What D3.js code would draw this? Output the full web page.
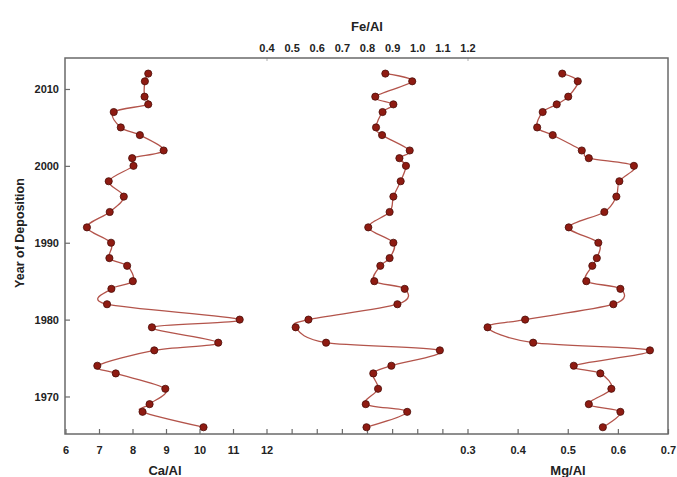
<!DOCTYPE html>
<html>
<head>
<meta charset="utf-8">
<script src="https://cdn.jsdelivr.net/npm/d3@7"></script>
<style>
  html, body { margin: 0; padding: 0; background: #fff; }
  svg { display: block; }
  .lbl { font-family: 'Liberation Sans Narrow', 'Arial Narrow', 'Liberation Sans', Arial, sans-serif; font-weight: bold; fill: #222; }
</style>
</head>
<body>
<svg id="chart" width="677" height="477"></svg>
<script>
// ---------- data ----------
const years = [2012, 2011, 2009, 2008, 2007, 2005, 2004, 2002, 2001, 2000,
               1998, 1996, 1994, 1992, 1990, 1988, 1987, 1985, 1984, 1982,
               1980, 1979, 1977, 1976, 1974, 1973, 1971, 1969, 1968, 1966];
const caAl = [8.47, 8.37, 8.36, 8.47, 7.44, 7.65, 8.22, 8.93, 7.99, 8.03,
              7.29, 7.74, 7.32, 6.64, 7.36, 7.31, 7.84, 8.01, 7.37, 7.24,
              11.20, 8.58, 10.56, 8.65, 6.95, 7.50, 8.98, 8.51, 8.30, 10.12];
const feAl = [0.873, 0.980, 0.833, 0.905, 0.862, 0.836, 0.860, 0.970, 0.929, 0.955,
              0.934, 0.905, 0.890, 0.805, 0.905, 0.890, 0.853, 0.829, 0.950, 0.921,
              0.567, 0.516, 0.637, 1.090, 0.897, 0.825, 0.844, 0.795, 0.960, 0.798];
const mgAl = [0.489, 0.520, 0.501, 0.478, 0.450, 0.439, 0.470, 0.528, 0.542, 0.632,
              0.603, 0.597, 0.573, 0.502, 0.561, 0.558, 0.549, 0.537, 0.605, 0.591,
              0.415, 0.340, 0.431, 0.664, 0.512, 0.565, 0.587, 0.542, 0.605, 0.570];

const yearTicks = [1970, 1980, 1990, 2000, 2010];
const caTicks = [6, 7, 8, 9, 10, 11, 12];
const feTicks = [0.4, 0.5, 0.6, 0.7, 0.8, 0.9, 1.0, 1.1, 1.2];
const mgTicks = [0.3, 0.4, 0.5, 0.6, 0.7];

// ---------- layout ----------
const L = 65, R = 668, T = 58, B = 434;
const svg = d3.select('#chart');

const y = d3.scaleLinear().domain([1965.12, 2014.03]).range([B, T]);
const xCa = d3.scaleLinear().domain([6, 12]).range([L + 0.5, 266.5]);
const xFe = d3.scaleLinear().domain([0.4, 1.2]).range([266.5, 467.5]);
const xMg = d3.scaleLinear().domain([0.3, 0.7]).range([467.5, R]);

const lineColor = '#b3544b', dotFill = '#8e1b12', dotStroke = '#4a0c08', axisColor = '#6a6a6a';

// ---------- axes ----------
function styleAxis(g) {
  g.select('.domain').remove();
  g.selectAll('.tick line').attr('stroke', axisColor).attr('stroke-width', 1.2);
  g.selectAll('.tick text').attr('class', 'lbl').style('font-size', '11px').attr('fill', '#222');
}

// left (year)
svg.append('g').attr('transform', `translate(${L},0)`)
  .call(d3.axisLeft(y).tickValues(yearTicks).tickFormat(d3.format('d')).tickSizeInner(-5).tickSizeOuter(0).tickPadding(6))
  .call(styleAxis);

// bottom Ca/Al
svg.append('g').attr('transform', `translate(0,${B})`)
  .call(d3.axisBottom(xCa).tickValues(caTicks).tickFormat(d3.format('d')).tickSizeInner(-5).tickSizeOuter(0).tickPadding(12))
  .call(styleAxis);
// bottom Fe positions (ticks only)
svg.append('g').attr('transform', `translate(0,${B})`)
  .call(d3.axisBottom(xFe).tickValues(feTicks.slice(1, -1)).tickFormat('').tickSizeInner(-5).tickSizeOuter(0))
  .call(styleAxis);
// bottom Mg/Al
svg.append('g').attr('transform', `translate(0,${B})`)
  .call(d3.axisBottom(xMg).tickValues(mgTicks).tickFormat(d3.format('.1f')).tickSizeInner(-5).tickSizeOuter(0).tickPadding(12))
  .call(styleAxis);
// top Fe/Al
svg.append('g').attr('transform', `translate(0,${T})`)
  .call(d3.axisTop(xFe).tickValues(feTicks).tickFormat(d3.format('.1f')).tickSizeInner(0).tickSizeOuter(0).tickPadding(6))
  .call(styleAxis);
svg.append('g').attr('transform', `translate(0,${T})`)
  .call(d3.axisTop(xFe).tickValues([0.4, 1.2]).tickFormat('').tickSizeInner(-3).tickSizeOuter(0))
  .call(styleAxis)
  .selectAll('.tick line').attr('stroke', '#bbb');

// frame
svg.append('rect').attr('x', L).attr('y', T).attr('width', R - L).attr('height', B - T)
  .attr('fill', 'none').attr('stroke', axisColor).attr('stroke-width', 1.5);

// ---------- titles ----------
svg.append('text').attr('class', 'lbl').attr('x', 367).attr('y', 31).attr('text-anchor', 'middle')
  .style('font-size', '13px').text('Fe/Al');
svg.append('text').attr('class', 'lbl').attr('x', 165).attr('y', 475).attr('text-anchor', 'middle')
  .style('font-size', '13px').text('Ca/Al');
svg.append('text').attr('class', 'lbl').attr('x', 568).attr('y', 475).attr('text-anchor', 'middle')
  .style('font-size', '13px').text('Mg/Al');
svg.append('text').attr('transform', 'translate(24,233) rotate(-90)').attr('text-anchor', 'middle')
  .style('font-family', "'Liberation Sans', Arial, sans-serif").style('font-weight', 'bold')
  .style('font-size', '12.5px').attr('fill', '#222').text('Year of Deposition');

// ---------- series ----------
const series = [
  { vals: caAl, x: xCa },
  { vals: feAl, x: xFe },
  { vals: mgAl, x: xMg }
];
series.forEach(s => {
  const pts = years.map((yr, i) => [s.x(s.vals[i]), y(yr)]);
  svg.append('path').datum(pts)
    .attr('d', d3.line().curve(d3.curveCatmullRom.alpha(0)))
    .attr('fill', 'none').attr('stroke', lineColor).attr('stroke-width', 1.3);
  svg.append('g').selectAll('circle').data(pts).join('circle')
    .attr('cx', d => d[0]).attr('cy', d => d[1]).attr('r', 3.6)
    .attr('fill', dotFill).attr('stroke', dotStroke).attr('stroke-width', 0.8);
});
</script>
</body>
</html>
